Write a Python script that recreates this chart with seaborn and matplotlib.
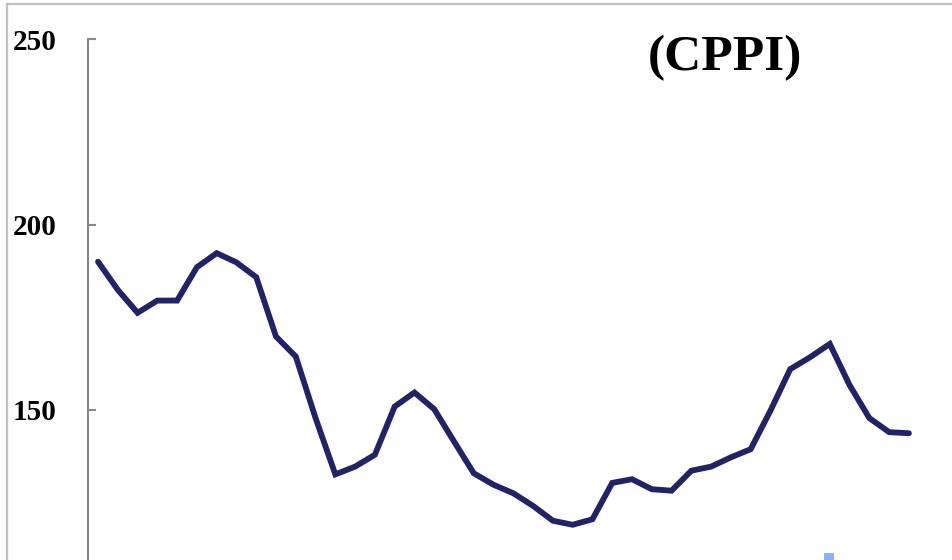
import numpy as np
import pandas as pd
import matplotlib
matplotlib.use("Agg")
import matplotlib.pyplot as plt
from matplotlib.patches import Rectangle
import seaborn as sns

# CPPI index, one value per period
cppi = [190.0, 182.4, 176.2, 179.5, 179.5, 188.5, 192.3, 189.8, 185.8, 169.8,
        164.4, 147.8, 132.6, 134.7, 137.9, 150.9, 154.7, 150.2, 141.5, 132.9,
        129.8, 127.5, 124.1, 120.1, 119.0, 120.5, 130.3, 131.3, 128.6, 128.2,
        133.6, 134.7, 137.2, 139.4, 149.8, 161.0, 164.2, 167.8, 156.7, 147.8,
        144.0, 143.7]
period = list(range(len(cppi)))
yticks = [150, 200, 250]
title = "(CPPI)"

sns.set_style("white")
plt.rcParams["font.family"] = ["Liberation Serif", "DejaVu Serif"]

W, H = 952, 560
fig = plt.figure(figsize=(W / 100, H / 100), dpi=100)
ax = fig.add_axes([88 / W, 0, 1 - 88 / W, (H - 39.3) / H])

df = pd.DataFrame({"period": period, "cppi": cppi})
sns.lineplot(data=df, x="period", y="cppi", ax=ax, color="#222266",
             linewidth=4.2, solid_joinstyle="miter", solid_capstyle="round")

ax.set_xlim(-0.506, 43.18)
ax.set_ylim(109.5, 250)
ax.set_yticks(yticks)
ax.set_xticks([])
ax.set_xlabel("")
ax.set_ylabel("")
for s in ["top", "right", "bottom"]:
    ax.spines[s].set_visible(False)
ax.spines["left"].set_color("#888888")
ax.spines["left"].set_linewidth(1.5)
ax.tick_params(axis="y", left=True, direction="in", length=6, width=1.5,
               color="#888888", labelcolor="black", pad=22.5, labelsize=21)
for lab in ax.get_yticklabels():
    lab.set_fontweight("bold")

fig.text(725 / W, 1 - 58 / H, title, ha="center", va="center",
         fontsize=37, fontweight="bold", color="black")

# outer chart frame (only top and left edges are inside the picture)
fig.patches.append(Rectangle((7 / W, -0.1), 1.2, 1 - 4 / H + 0.1,
                             transform=fig.transFigure, fill=False,
                             edgecolor="#c0c0c0", linewidth=1.6))
# small light-blue marker cut off at the bottom edge
fig.patches.append(Rectangle((824 / W, 0), 10 / W, 7.5 / H,
                             transform=fig.transFigure, color="#8ab4f8",
                             linewidth=0))

fig.savefig("out.png", dpi=100)
